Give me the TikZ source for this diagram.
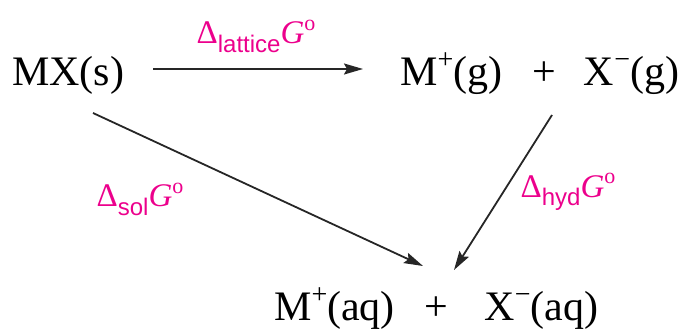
\documentclass[tikz,border=0pt]{standalone}
\usepackage{fontspec}
\setmainfont{Liberation Serif}
\newfontfamily\labsans{Liberation Sans}
\usetikzlibrary{arrows.meta}
\definecolor{labmag}{RGB}{236,0,140}
\newcommand{\sps}[1]{\raisebox{0.40em}{\fontsize{28}{28}\selectfont #1}}
\newcommand{\dlab}[1]{\fontsize{33}{35}\selectfont Δ\raisebox{-0.25em}{\labsans\fontsize{24}{24}\selectfont #1}\textit{G}\raisebox{0.42em}{\fontsize{22}{22}\selectfont o}}
\tikzset{
  species/.style={inner sep=0pt, font=\fontsize{42}{48}\selectfont, anchor=base west},
  elab/.style={inner sep=0pt, text=labmag},
  rxn/.style={line width=1.8pt, draw=black!85, -{Stealth[length=19pt,width=11pt,inset=3pt]}}
}
\begin{document}
\begin{tikzpicture}[x=1pt,y=-1pt]
\useasboundingbox (0,0) rectangle (689,329);
\node[species] (mx) at (12,85) {MX(s)};
\node[species] (gas) at (400,85) {M\sps{+}(g)\hspace{30pt}+\hspace{28pt}X\sps{−}(g)};
\node[species] (aq) at (274,320) {M\sps{+}(aq)\hspace{30pt}+\hspace{36pt}X\sps{−}(aq)};
\coordinate (a1s) at (153,69);
\coordinate (a1e) at (363,69);
\coordinate (a2s) at (93,113);
\coordinate (a2e) at (423,266);
\coordinate (a3s) at (552,115);
\coordinate (a3e) at (454,270);
\draw[rxn] (a1s) -- (a1e);
\draw[rxn] (a2s) -- (a2e);
\draw[rxn] (a3s) -- (a3e);
\node[elab] (llat) at (256,36) {\dlab{lattice}};
\node[elab] (lsol) at (140,199) {\dlab{sol}};
\node[elab] (lhyd) at (568,192) {\dlab{hyd}};
\end{tikzpicture}
\end{document}
